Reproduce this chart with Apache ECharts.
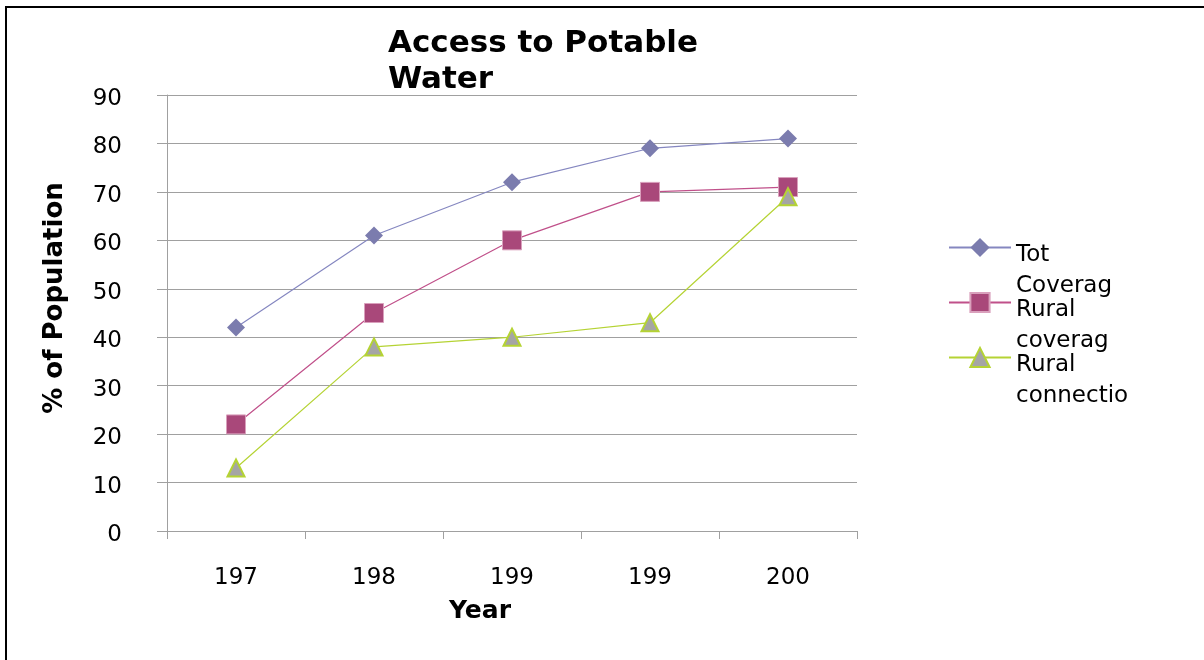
<!DOCTYPE html>
<html>
<head>
<meta charset="utf-8">
<script src="https://cdn.jsdelivr.net/npm/echarts@6/dist/echarts.min.js"></script>
<style>
  html, body { margin: 0; padding: 0; background: #fff; }
  #chart { width: 1204px; height: 660px; }
</style>
</head>
<body>
<div id="chart"></div>
<script>
const years = ['197', '198', '199', '199', '200'];
const totalCoverage = [42, 61, 72, 79, 81];
const ruralCoverage = [22, 45, 60, 70, 71];
const ruralConnection = [13, 38, 40, 43, 69];
const yTicks = [0, 10, 20, 30, 40, 50, 60, 70, 80, 90];

const chart = echarts.init(document.getElementById('chart'));

const font = 'DejaVu Sans';

const option = {
  animation: false,
  backgroundColor: '#fff',
  title: {
    text: 'Access to Potable\nWater',
    left: 383,
    top: 21,
    textStyle: {
      fontFamily: font,
      fontWeight: 'bold',
      fontSize: 31,
      lineHeight: 36,
      color: '#000'
    }
  },
  legend: {
    orient: 'vertical',
    left: 948,
    top: 193,
    padding: 0,
    itemWidth: 62,
    itemHeight: 24,
    itemGap: -54,
    // first line sits level with the marker, second line below it
    formatter: name => '{e| }\n' + name.replace(' ', '\n'),
    textStyle: {
      fontFamily: font,
      fontSize: 23,
      lineHeight: 31,
      color: '#000',
      rich: { e: { lineHeight: 47, fontSize: 10 } }
    }
  },
  grid: {
    left: 167,
    right: 1204 - 857,
    top: 95,
    bottom: 660 - 531
  },
  xAxis: {
    type: 'category',
    data: years,
    boundaryGap: true,
    name: 'Year',
    nameLocation: 'middle',
    nameGap: 68,
    nameTextStyle: { fontFamily: font, fontWeight: 'bold', fontSize: 25, color: '#000', padding: [0, 64, 0, 0] },
    axisLine: { lineStyle: { color: '#a0a0a0', width: 1 } },
    axisTick: { show: true, alignWithLabel: false, length: 8, lineStyle: { color: '#a0a0a0' } },
    axisLabel: { fontFamily: font, fontSize: 23, color: '#000', margin: 36 },
    splitLine: { show: false }
  },
  yAxis: {
    type: 'value',
    min: yTicks[0],
    max: yTicks[yTicks.length - 1],
    interval: 10,
    name: '% of Population',
    nameLocation: 'middle',
    nameGap: 99,
    nameRotate: 90,
    nameTextStyle: { fontFamily: font, fontWeight: 'bold', fontSize: 26, color: '#000', padding: [0, 0, 0, 30] },
    axisLine: { show: true, lineStyle: { color: '#a0a0a0', width: 1 } },
    axisTick: { show: true, length: 10, lineStyle: { color: '#a0a0a0' } },
    axisLabel: { fontFamily: font, fontSize: 23, color: '#000', margin: 45, verticalAlign: 'top', lineHeight: 8 },
    splitLine: { show: true, lineStyle: { color: '#a0a0a0', width: 1 } }
  },
  series: [
    {
      name: 'Tot Coverag',
      type: 'line',
      data: totalCoverage,
      symbol: 'diamond',
      symbolSize: 18,
      lineStyle: { color: '#8587c0', width: 1.2 },
      itemStyle: { color: '#7b7cae' }
    },
    {
      name: 'Rural coverag',
      type: 'line',
      data: ruralCoverage,
      symbol: 'rect',
      symbolSize: 19,
      lineStyle: { color: '#c0508a', width: 1.2 },
      itemStyle: { color: '#a9487a', borderColor: '#d9a0bc', borderWidth: 1 }
    },
    {
      name: 'Rural connectio',
      type: 'line',
      data: ruralConnection,
      symbol: 'triangle',
      symbolSize: 17,
      lineStyle: { color: '#b5d334', width: 1.2 },
      itemStyle: { color: '#a5a5a5', borderColor: '#b5d334', borderWidth: 2 }
    }
  ],
  graphic: [
    {
      type: 'rect',
      shape: { x: 6, y: 7, width: 1300, height: 800 },
      style: { fill: 'none', stroke: '#000', lineWidth: 2 },
      z: 100,
      silent: true
    }
  ]
};

chart.setOption(option);
</script>
</body>
</html>
